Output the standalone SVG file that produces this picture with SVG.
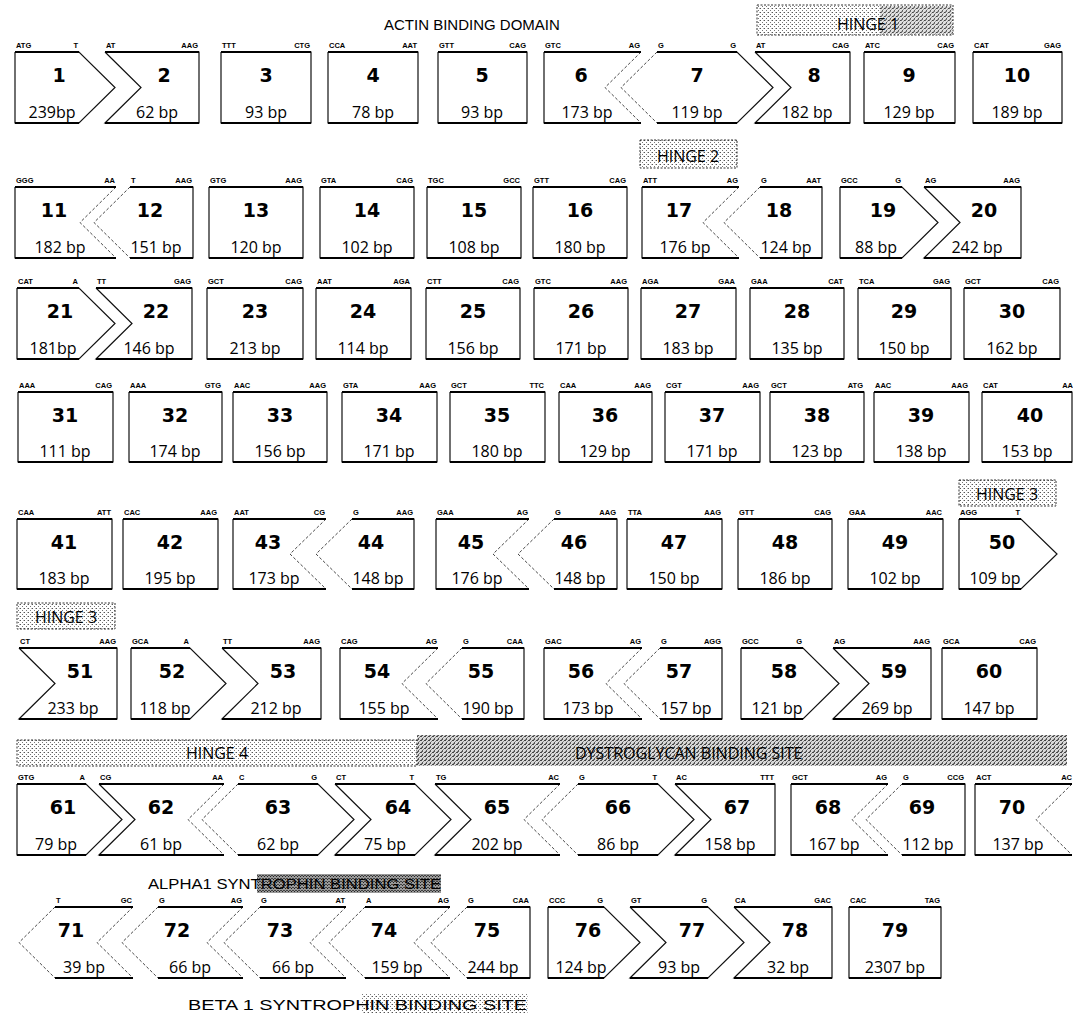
<svg xmlns="http://www.w3.org/2000/svg" width="1073" height="1018" viewBox="0 0 1073 1018">
<style>
.o{fill:none;stroke:#111;stroke-width:1.2;stroke-linejoin:miter}
.tb{fill:none;stroke:#000;stroke-width:2}
.d{fill:none;stroke:#333;stroke-width:0.9;stroke-dasharray:3 2}
.n{font-family:'DejaVu Sans',sans-serif;font-weight:bold;font-size:19px;text-anchor:middle;fill:#000}
.b{font-family:'Open Sans',sans-serif;font-size:16px;text-anchor:middle;fill:#000}
.s{font-family:'Liberation Sans',sans-serif;font-weight:bold;font-size:7.5px;fill:#000}
.e{text-anchor:end}
.hb{stroke:#333;stroke-width:1;stroke-dasharray:2 1.5}
.ht{font-family:'Open Sans',sans-serif;font-size:16px;fill:#000}
.tt{font-family:'Liberation Sans',sans-serif;font-size:15px;fill:#000}
</style>
<defs>
<pattern id="p1" width="4" height="4" patternUnits="userSpaceOnUse"><rect width="4" height="4" fill="#fff"/><rect x="0" y="0" width="1" height="1" fill="#555"/><rect x="2" y="2" width="1" height="1" fill="#777"/><rect x="3" y="0" width="1" height="1" fill="#bbb"/></pattern>
<pattern id="p2" width="4" height="4" patternUnits="userSpaceOnUse"><rect width="4" height="4" fill="#d8d8d8"/><rect x="0" y="0" width="2" height="1" fill="#444"/><rect x="2" y="2" width="1" height="2" fill="#555"/><rect x="3" y="1" width="1" height="1" fill="#888"/><rect x="1" y="3" width="1" height="1" fill="#777"/></pattern>
<pattern id="p3" width="3" height="3" patternUnits="userSpaceOnUse"><rect width="3" height="3" fill="#999"/><rect x="0" y="0" width="1" height="1" fill="#222"/><rect x="1" y="2" width="2" height="1" fill="#444"/></pattern>
</defs>
<rect width="1073" height="1018" fill="#fff"/>

<g id="annotations">
<text class="tt" x="384" y="30">ACTIN BINDING DOMAIN</text>
<rect class="hb" x="757" y="5" width="196" height="30" fill="url(#p1)"/>
<rect x="880" y="6" width="72" height="28" fill="url(#p2)" opacity="0.8"/>
<text class="ht" x="868" y="30" text-anchor="middle">HINGE 1</text>
<rect class="hb" x="640" y="140" width="97" height="28" fill="url(#p1)"/>
<text class="ht" x="688" y="162" text-anchor="middle">HINGE 2</text>
<rect class="hb" x="959" y="480" width="97" height="26" fill="url(#p1)"/>
<text class="ht" x="1007" y="500" text-anchor="middle">HINGE 3</text>
<rect class="hb" x="17" y="603" width="98" height="26" fill="url(#p1)"/>
<text class="ht" x="66" y="623" text-anchor="middle">HINGE 3</text>
<rect class="hb" x="17" y="740" width="400" height="26" fill="url(#p1)"/>
<rect x="417" y="735" width="650" height="31" fill="url(#p2)"/>
<text class="ht" x="217" y="759" text-anchor="middle">HINGE 4</text>
<text class="ht" x="575" y="759">DYSTROGLYCAN BINDING SITE</text>
<rect x="257" y="874" width="184" height="19" fill="url(#p3)"/>
<text class="tt" x="148" y="889" font-size="16" textLength="293" lengthAdjust="spacingAndGlyphs">ALPHA1 SYNTROPHIN BINDING SITE</text>
<rect x="362" y="994" width="166" height="20" fill="url(#p1)"/>
<text class="tt" x="188" y="1010" font-size="18" textLength="339" lengthAdjust="spacingAndGlyphs">BETA 1 SYNTROPHIN BINDING SITE</text>
</g>

<g id="connectors"></g>

<!-- Row 1: T52 B123 -->
<g id="e1"><path class="o" d="M15 52H79L115 87.5L79 123H15V52"/><path class="tb" d="M15 52H79M15 123H79"/><text class="s" x="16" y="48">ATG</text><text class="s e" x="78" y="48">T</text><text class="n" x="59" y="82">1</text><text class="b" x="52" y="118">239bp</text></g>
<g id="e2"><path class="o" d="M105 52H199V123H105L141 87.5L105 52"/><path class="tb" d="M105 52H199M105 123H199"/><text class="s" x="106" y="48">AT</text><text class="s e" x="198" y="48">AAG</text><text class="n" x="164" y="82">2</text><text class="b" x="157" y="118">62 bp</text></g>
<g id="e3"><path class="o" d="M221 52H311V123H221V52"/><path class="tb" d="M221 52H311M221 123H311"/><text class="s" x="222" y="48">TTT</text><text class="s e" x="310" y="48">CTG</text><text class="n" x="266" y="82">3</text><text class="b" x="266" y="118">93 bp</text></g>
<g id="e4"><path class="o" d="M328 52H418V123H328V52"/><path class="tb" d="M328 52H418M328 123H418"/><text class="s" x="329" y="48">CCA</text><text class="s e" x="417" y="48">AAT</text><text class="n" x="373" y="82">4</text><text class="b" x="373" y="118">78 bp</text></g>
<g id="e5"><path class="o" d="M438 52H527V123H438V52"/><path class="tb" d="M438 52H527M438 123H527"/><text class="s" x="439" y="48">GTT</text><text class="s e" x="526" y="48">CAG</text><text class="n" x="482" y="82">5</text><text class="b" x="482" y="118">93 bp</text></g>
<g id="e6"><path class="o" d="M544 52H641M641 123H544V52"/><path class="d" d="M641 52L605 87.5L641 123"/><path class="tb" d="M544 52H641M544 123H641"/><text class="s" x="545" y="48">GTC</text><text class="s e" x="640" y="48">AG</text><text class="n" x="581" y="82">6</text><text class="b" x="587" y="118">173 bp</text></g>
<g id="e7"><path class="o" d="M657 52H737L773 87.5L737 123H657"/><path class="d" d="M657 52L621 87.5L657 123"/><path class="tb" d="M657 52H737M657 123H737"/><text class="s" x="658" y="48">G</text><text class="s e" x="736" y="48">G</text><text class="n" x="697" y="82">7</text><text class="b" x="697" y="118">119 bp</text></g>
<g id="e8"><path class="o" d="M755 52H850V123H755L791 87.5L755 52"/><path class="tb" d="M755 52H850M755 123H850"/><text class="s" x="756" y="48">AT</text><text class="s e" x="849" y="48">CAG</text><text class="n" x="814" y="82">8</text><text class="b" x="807" y="118">182 bp</text></g>
<g id="e9"><path class="o" d="M864 52H955V123H864V52"/><path class="tb" d="M864 52H955M864 123H955"/><text class="s" x="865" y="48">ATC</text><text class="s e" x="954" y="48">CAG</text><text class="n" x="909" y="82">9</text><text class="b" x="909" y="118">129 bp</text></g>
<g id="e10"><path class="o" d="M973 52H1062V123H973V52"/><path class="tb" d="M973 52H1062M973 123H1062"/><text class="s" x="974" y="48">CAT</text><text class="s e" x="1061" y="48">GAG</text><text class="n" x="1017" y="82">10</text><text class="b" x="1017" y="118">189 bp</text></g>

<!-- Row 2: T187 B258 -->
<g id="e11"><path class="o" d="M15 187H116M116 258H15V187"/><path class="d" d="M116 187L80 222.5L116 258"/><path class="tb" d="M15 187H116M15 258H116"/><text class="s" x="16" y="183">GGG</text><text class="s e" x="115" y="183">AA</text><text class="n" x="54" y="217">11</text><text class="b" x="60" y="253">182 bp</text></g>
<g id="e12"><path class="o" d="M130 187H193V258H130"/><path class="d" d="M130 187L94 222.5L130 258"/><path class="tb" d="M130 187H193M130 258H193"/><text class="s" x="131" y="183">T</text><text class="s e" x="192" y="183">AAG</text><text class="n" x="150" y="217">12</text><text class="b" x="156" y="253">151 bp</text></g>
<g id="e13"><path class="o" d="M209 187H303V258H209V187"/><path class="tb" d="M209 187H303M209 258H303"/><text class="s" x="210" y="183">GTG</text><text class="s e" x="302" y="183">AAG</text><text class="n" x="256" y="217">13</text><text class="b" x="256" y="253">120 bp</text></g>
<g id="e14"><path class="o" d="M320 187H414V258H320V187"/><path class="tb" d="M320 187H414M320 258H414"/><text class="s" x="321" y="183">GTA</text><text class="s e" x="413" y="183">CAG</text><text class="n" x="367" y="217">14</text><text class="b" x="367" y="253">102 bp</text></g>
<g id="e15"><path class="o" d="M427 187H521V258H427V187"/><path class="tb" d="M427 187H521M427 258H521"/><text class="s" x="428" y="183">TGC</text><text class="s e" x="520" y="183">GCC</text><text class="n" x="474" y="217">15</text><text class="b" x="474" y="253">108 bp</text></g>
<g id="e16"><path class="o" d="M533 187H627V258H533V187"/><path class="tb" d="M533 187H627M533 258H627"/><text class="s" x="534" y="183">GTT</text><text class="s e" x="626" y="183">CAG</text><text class="n" x="580" y="217">16</text><text class="b" x="580" y="253">180 bp</text></g>
<g id="e17"><path class="o" d="M642 187H739M739 258H642V187"/><path class="d" d="M739 187L703 222.5L739 258"/><path class="tb" d="M642 187H739M642 258H739"/><text class="s" x="643" y="183">ATT</text><text class="s e" x="738" y="183">AG</text><text class="n" x="679" y="217">17</text><text class="b" x="685" y="253">176 bp</text></g>
<g id="e18"><path class="o" d="M760 187H822V258H760"/><path class="d" d="M760 187L724 222.5L760 258"/><path class="tb" d="M760 187H822M760 258H822"/><text class="s" x="761" y="183">G</text><text class="s e" x="821" y="183">AAT</text><text class="n" x="779" y="217">18</text><text class="b" x="786" y="253">124 bp</text></g>
<g id="e19"><path class="o" d="M840 187H902L938 222.5L902 258H840V187"/><path class="tb" d="M840 187H902M840 258H902"/><text class="s" x="841" y="183">GCC</text><text class="s e" x="901" y="183">G</text><text class="n" x="883" y="217">19</text><text class="b" x="876" y="253">88 bp</text></g>
<g id="e20"><path class="o" d="M924 187H1021V258H924L960 222.5L924 187"/><path class="tb" d="M924 187H1021M924 258H1021"/><text class="s" x="925" y="183">AG</text><text class="s e" x="1020" y="183">AAG</text><text class="n" x="984" y="217">20</text><text class="b" x="977" y="253">242 bp</text></g>

<!-- Row 3: T288 B359 -->
<g id="e21"><path class="o" d="M17 288H79L115 323.5L79 359H17V288"/><path class="tb" d="M17 288H79M17 359H79"/><text class="s" x="18" y="284">CAT</text><text class="s e" x="78" y="284">A</text><text class="n" x="60" y="318">21</text><text class="b" x="53" y="354">181bp</text></g>
<g id="e22"><path class="o" d="M96 288H192V359H96L132 323.5L96 288"/><path class="tb" d="M96 288H192M96 359H192"/><text class="s" x="97" y="284">TT</text><text class="s e" x="191" y="284">GAG</text><text class="n" x="156" y="318">22</text><text class="b" x="149" y="354">146 bp</text></g>
<g id="e23"><path class="o" d="M207 288H303V359H207V288"/><path class="tb" d="M207 288H303M207 359H303"/><text class="s" x="208" y="284">GCT</text><text class="s e" x="302" y="284">CAG</text><text class="n" x="255" y="318">23</text><text class="b" x="255" y="354">213 bp</text></g>
<g id="e24"><path class="o" d="M316 288H411V359H316V288"/><path class="tb" d="M316 288H411M316 359H411"/><text class="s" x="317" y="284">AAT</text><text class="s e" x="410" y="284">AGA</text><text class="n" x="363" y="318">24</text><text class="b" x="363" y="354">114 bp</text></g>
<g id="e25"><path class="o" d="M426 288H520V359H426V288"/><path class="tb" d="M426 288H520M426 359H520"/><text class="s" x="427" y="284">CTT</text><text class="s e" x="519" y="284">CAG</text><text class="n" x="473" y="318">25</text><text class="b" x="473" y="354">156 bp</text></g>
<g id="e26"><path class="o" d="M534 288H628V359H534V288"/><path class="tb" d="M534 288H628M534 359H628"/><text class="s" x="535" y="284">GTC</text><text class="s e" x="627" y="284">AAG</text><text class="n" x="581" y="318">26</text><text class="b" x="581" y="354">171 bp</text></g>
<g id="e27"><path class="o" d="M641 288H736V359H641V288"/><path class="tb" d="M641 288H736M641 359H736"/><text class="s" x="642" y="284">AGA</text><text class="s e" x="735" y="284">GAA</text><text class="n" x="688" y="318">27</text><text class="b" x="688" y="354">183 bp</text></g>
<g id="e28"><path class="o" d="M750 288H844V359H750V288"/><path class="tb" d="M750 288H844M750 359H844"/><text class="s" x="751" y="284">GAA</text><text class="s e" x="843" y="284">CAT</text><text class="n" x="797" y="318">28</text><text class="b" x="797" y="354">135 bp</text></g>
<g id="e29"><path class="o" d="M858 288H951V359H858V288"/><path class="tb" d="M858 288H951M858 359H951"/><text class="s" x="859" y="284">TCA</text><text class="s e" x="950" y="284">GAG</text><text class="n" x="904" y="318">29</text><text class="b" x="904" y="354">150 bp</text></g>
<g id="e30"><path class="o" d="M964 288H1060V359H964V288"/><path class="tb" d="M964 288H1060M964 359H1060"/><text class="s" x="965" y="284">GCT</text><text class="s e" x="1059" y="284">CAG</text><text class="n" x="1012" y="318">30</text><text class="b" x="1012" y="354">162 bp</text></g>

<!-- Row 4: T392 B462 -->
<g id="e31"><path class="o" d="M18 392H113V462H18V392"/><path class="tb" d="M18 392H113M18 462H113"/><text class="s" x="19" y="388">AAA</text><text class="s e" x="112" y="388">CAG</text><text class="n" x="65" y="422">31</text><text class="b" x="65" y="457">111 bp</text></g>
<g id="e32"><path class="o" d="M129 392H222V462H129V392"/><path class="tb" d="M129 392H222M129 462H222"/><text class="s" x="130" y="388">AAA</text><text class="s e" x="221" y="388">GTG</text><text class="n" x="175" y="422">32</text><text class="b" x="175" y="457">174 bp</text></g>
<g id="e33"><path class="o" d="M233 392H327V462H233V392"/><path class="tb" d="M233 392H327M233 462H327"/><text class="s" x="234" y="388">AAC</text><text class="s e" x="326" y="388">AAG</text><text class="n" x="280" y="422">33</text><text class="b" x="280" y="457">156 bp</text></g>
<g id="e34"><path class="o" d="M342 392H437V462H342V392"/><path class="tb" d="M342 392H437M342 462H437"/><text class="s" x="343" y="388">GTA</text><text class="s e" x="436" y="388">AAG</text><text class="n" x="389" y="422">34</text><text class="b" x="389" y="457">171 bp</text></g>
<g id="e35"><path class="o" d="M450 392H545V462H450V392"/><path class="tb" d="M450 392H545M450 462H545"/><text class="s" x="451" y="388">GCT</text><text class="s e" x="544" y="388">TTC</text><text class="n" x="497" y="422">35</text><text class="b" x="497" y="457">180 bp</text></g>
<g id="e36"><path class="o" d="M559 392H652V462H559V392"/><path class="tb" d="M559 392H652M559 462H652"/><text class="s" x="560" y="388">CAA</text><text class="s e" x="651" y="388">AAG</text><text class="n" x="605" y="422">36</text><text class="b" x="605" y="457">129 bp</text></g>
<g id="e37"><path class="o" d="M665 392H760V462H665V392"/><path class="tb" d="M665 392H760M665 462H760"/><text class="s" x="666" y="388">CGT</text><text class="s e" x="759" y="388">AAG</text><text class="n" x="712" y="422">37</text><text class="b" x="712" y="457">171 bp</text></g>
<g id="e38"><path class="o" d="M770 392H864V462H770V392"/><path class="tb" d="M770 392H864M770 462H864"/><text class="s" x="771" y="388">GCT</text><text class="s e" x="863" y="388">ATG</text><text class="n" x="817" y="422">38</text><text class="b" x="817" y="457">123 bp</text></g>
<g id="e39"><path class="o" d="M874 392H969V462H874V392"/><path class="tb" d="M874 392H969M874 462H969"/><text class="s" x="875" y="388">AAC</text><text class="s e" x="968" y="388">AAG</text><text class="n" x="921" y="422">39</text><text class="b" x="921" y="457">138 bp</text></g>
<g id="e40"><path class="o" d="M982 392H1072V462H982V392"/><path class="tb" d="M982 392H1072M982 462H1072"/><text class="s" x="983" y="388">CAT</text><text class="s e" x="1073" y="388">AA</text><text class="n" x="1030" y="422">40</text><text class="b" x="1027" y="457">153 bp</text></g>

<!-- Row 5: T519 B589 -->
<g id="e41"><path class="o" d="M17 519H112V589H17V519"/><path class="tb" d="M17 519H112M17 589H112"/><text class="s" x="18" y="515">CAA</text><text class="s e" x="111" y="515">ATT</text><text class="n" x="64" y="549">41</text><text class="b" x="64" y="584">183 bp</text></g>
<g id="e42"><path class="o" d="M123 519H218V589H123V519"/><path class="tb" d="M123 519H218M123 589H218"/><text class="s" x="124" y="515">CAC</text><text class="s e" x="217" y="515">AAG</text><text class="n" x="170" y="549">42</text><text class="b" x="170" y="584">195 bp</text></g>
<g id="e43"><path class="o" d="M233 519H326M326 589H233V519"/><path class="d" d="M326 519L290 554L326 589"/><path class="tb" d="M233 519H326M233 589H326"/><text class="s" x="234" y="515">AAT</text><text class="s e" x="325" y="515">CG</text><text class="n" x="268" y="549">43</text><text class="b" x="274" y="584">173 bp</text></g>
<g id="e44"><path class="o" d="M352 519H414V589H352"/><path class="d" d="M352 519L316 554L352 589"/><path class="tb" d="M352 519H414M352 589H414"/><text class="s" x="353" y="515">G</text><text class="s e" x="413" y="515">AAG</text><text class="n" x="371" y="549">44</text><text class="b" x="378" y="584">148 bp</text></g>
<g id="e45"><path class="o" d="M436 519H529M529 589H436V519"/><path class="d" d="M529 519L493 554L529 589"/><path class="tb" d="M436 519H529M436 589H529"/><text class="s" x="437" y="515">GAA</text><text class="s e" x="528" y="515">AG</text><text class="n" x="471" y="549">45</text><text class="b" x="477" y="584">176 bp</text></g>
<g id="e46"><path class="o" d="M554 519H617V589H554"/><path class="d" d="M554 519L518 554L554 589"/><path class="tb" d="M554 519H617M554 589H617"/><text class="s" x="555" y="515">G</text><text class="s e" x="616" y="515">AAG</text><text class="n" x="574" y="549">46</text><text class="b" x="580" y="584">148 bp</text></g>
<g id="e47"><path class="o" d="M627 519H722V589H627V519"/><path class="tb" d="M627 519H722M627 589H722"/><text class="s" x="628" y="515">TTA</text><text class="s e" x="721" y="515">AAG</text><text class="n" x="674" y="549">47</text><text class="b" x="674" y="584">150 bp</text></g>
<g id="e48"><path class="o" d="M738 519H832V589H738V519"/><path class="tb" d="M738 519H832M738 589H832"/><text class="s" x="739" y="515">GTT</text><text class="s e" x="831" y="515">CAG</text><text class="n" x="785" y="549">48</text><text class="b" x="785" y="584">186 bp</text></g>
<g id="e49"><path class="o" d="M848 519H943V589H848V519"/><path class="tb" d="M848 519H943M848 589H943"/><text class="s" x="849" y="515">GAA</text><text class="s e" x="942" y="515">AAC</text><text class="n" x="895" y="549">49</text><text class="b" x="895" y="584">102 bp</text></g>
<g id="e50"><path class="o" d="M959 519H1021L1057 554L1021 589H959V519"/><path class="tb" d="M959 519H1021M959 589H1021"/><text class="s" x="960" y="515">AGG</text><text class="s e" x="1020" y="515">T</text><text class="n" x="1002" y="549">50</text><text class="b" x="995" y="584">109 bp</text></g>

<!-- Row 6: T648 B719 -->
<g id="e51"><path class="o" d="M19 648H117V719H19L55 683.5L19 648"/><path class="tb" d="M19 648H117M19 719H117"/><text class="s" x="20" y="644">CT</text><text class="s e" x="116" y="644">AAG</text><text class="n" x="80" y="678">51</text><text class="b" x="73" y="714">233 bp</text></g>
<g id="e52"><path class="o" d="M131 648H190L226 683.5L190 719H131V648"/><path class="tb" d="M131 648H190M131 719H190"/><text class="s" x="132" y="644">GCA</text><text class="s e" x="189" y="644">A</text><text class="n" x="172" y="678">52</text><text class="b" x="165" y="714">118 bp</text></g>
<g id="e53"><path class="o" d="M222 648H321V719H222L258 683.5L222 648"/><path class="tb" d="M222 648H321M222 719H321"/><text class="s" x="223" y="644">TT</text><text class="s e" x="320" y="644">AAG</text><text class="n" x="283" y="678">53</text><text class="b" x="276" y="714">212 bp</text></g>
<g id="e54"><path class="o" d="M340 648H438M438 719H340V648"/><path class="d" d="M438 648L402 683.5L438 719"/><path class="tb" d="M340 648H438M340 719H438"/><text class="s" x="341" y="644">CAG</text><text class="s e" x="437" y="644">AG</text><text class="n" x="377" y="678">54</text><text class="b" x="384" y="714">155 bp</text></g>
<g id="e55"><path class="o" d="M462 648H524V719H462"/><path class="d" d="M462 648L426 683.5L462 719"/><path class="tb" d="M462 648H524M462 719H524"/><text class="s" x="463" y="644">G</text><text class="s e" x="523" y="644">CAA</text><text class="n" x="481" y="678">55</text><text class="b" x="488" y="714">190 bp</text></g>
<g id="e56"><path class="o" d="M544 648H642M642 719H544V648"/><path class="d" d="M642 648L606 683.5L642 719"/><path class="tb" d="M544 648H642M544 719H642"/><text class="s" x="545" y="644">GAC</text><text class="s e" x="641" y="644">AG</text><text class="n" x="581" y="678">56</text><text class="b" x="588" y="714">173 bp</text></g>
<g id="e57"><path class="o" d="M660 648H722V719H660"/><path class="d" d="M660 648L624 683.5L660 719"/><path class="tb" d="M660 648H722M660 719H722"/><text class="s" x="661" y="644">G</text><text class="s e" x="721" y="644">AGG</text><text class="n" x="679" y="678">57</text><text class="b" x="686" y="714">157 bp</text></g>
<g id="e58"><path class="o" d="M741 648H803L839 683.5L803 719H741V648"/><path class="tb" d="M741 648H803M741 719H803"/><text class="s" x="742" y="644">GCC</text><text class="s e" x="802" y="644">G</text><text class="n" x="784" y="678">58</text><text class="b" x="777" y="714">121 bp</text></g>
<g id="e59"><path class="o" d="M833 648H931V719H833L869 683.5L833 648"/><path class="tb" d="M833 648H931M833 719H931"/><text class="s" x="834" y="644">AG</text><text class="s e" x="930" y="644">AAG</text><text class="n" x="894" y="678">59</text><text class="b" x="887" y="714">269 bp</text></g>
<g id="e60"><path class="o" d="M942 648H1037V719H942V648"/><path class="tb" d="M942 648H1037M942 719H1037"/><text class="s" x="943" y="644">GCA</text><text class="s e" x="1036" y="644">CAG</text><text class="n" x="989" y="678">60</text><text class="b" x="989" y="714">147 bp</text></g>

<!-- Row 7: T784 B855 -->
<g id="e61"><path class="o" d="M17 784H86L122 819.5L86 855H17V784"/><path class="tb" d="M17 784H86M17 855H86"/><text class="s" x="18" y="780">GTG</text><text class="s e" x="85" y="780">A</text><text class="n" x="63" y="814">61</text><text class="b" x="56" y="850">79 bp</text></g>
<g id="e62"><path class="o" d="M99 784H224M224 855H99L135 819.5L99 784"/><path class="d" d="M224 784L188 819.5L224 855"/><path class="tb" d="M99 784H224M99 855H224"/><text class="s" x="100" y="780">CG</text><text class="s e" x="223" y="780">AA</text><text class="n" x="161" y="814">62</text><text class="b" x="161" y="850">61 bp</text></g>
<g id="e63"><path class="o" d="M238 784H318L354 819.5L318 855H238"/><path class="d" d="M238 784L202 819.5L238 855"/><path class="tb" d="M238 784H318M238 855H318"/><text class="s" x="239" y="780">C</text><text class="s e" x="317" y="780">G</text><text class="n" x="278" y="814">63</text><text class="b" x="278" y="850">62 bp</text></g>
<g id="e64"><path class="o" d="M335 784H415L451 819.5L415 855H335L371 819.5L335 784"/><path class="tb" d="M335 784H415M335 855H415"/><text class="s" x="336" y="780">CT</text><text class="s e" x="414" y="780">T</text><text class="n" x="398" y="814">64</text><text class="b" x="385" y="850">75 bp</text></g>
<g id="e65"><path class="o" d="M435 784H560M560 855H435L471 819.5L435 784"/><path class="d" d="M560 784L524 819.5L560 855"/><path class="tb" d="M435 784H560M435 855H560"/><text class="s" x="436" y="780">TG</text><text class="s e" x="559" y="780">AC</text><text class="n" x="497" y="814">65</text><text class="b" x="497" y="850">202 bp</text></g>
<g id="e66"><path class="o" d="M578 784H658L694 819.5L658 855H578"/><path class="d" d="M578 784L542 819.5L578 855"/><path class="tb" d="M578 784H658M578 855H658"/><text class="s" x="579" y="780">G</text><text class="s e" x="657" y="780">T</text><text class="n" x="618" y="814">66</text><text class="b" x="618" y="850">86 bp</text></g>
<g id="e67"><path class="o" d="M675 784H775V855H675L711 819.5L675 784"/><path class="tb" d="M675 784H775M675 855H775"/><text class="s" x="676" y="780">AC</text><text class="s e" x="774" y="780">TTT</text><text class="n" x="737" y="814">67</text><text class="b" x="730" y="850">158 bp</text></g>
<g id="e68"><path class="o" d="M791 784H888M888 855H791V784"/><path class="d" d="M888 784L852 819.5L888 855"/><path class="tb" d="M791 784H888M791 855H888"/><text class="s" x="792" y="780">GCT</text><text class="s e" x="887" y="780">AG</text><text class="n" x="828" y="814">68</text><text class="b" x="834" y="850">167 bp</text></g>
<g id="e69"><path class="o" d="M902 784H965V855H902"/><path class="d" d="M902 784L866 819.5L902 855"/><path class="tb" d="M902 784H965M902 855H965"/><text class="s" x="903" y="780">G</text><text class="s e" x="964" y="780">CCG</text><text class="n" x="922" y="814">69</text><text class="b" x="928" y="850">112 bp</text></g>
<g id="e70"><path class="o" d="M975 784H1072M1072 855H975V784"/><path class="d" d="M1072 784L1036 819.5L1072 855"/><path class="tb" d="M975 784H1072M975 855H1072"/><text class="s" x="976" y="780">ACT</text><text class="s e" x="1072" y="780">AC</text><text class="n" x="1012" y="814">70</text><text class="b" x="1018" y="850">137 bp</text></g>

<!-- Row 8: T907 B978 -->
<g id="e71"><path class="o" d="M55 907H133M133 978H55"/><path class="d" d="M55 907L19 942.5L55 978M133 907L97 942.5L133 978"/><path class="tb" d="M55 907H133M55 978H133"/><text class="s" x="56" y="903">T</text><text class="s e" x="132" y="903">GC</text><text class="n" x="71" y="937">71</text><text class="b" x="84" y="973">39 bp</text></g>
<g id="e72"><path class="o" d="M158 907H243M243 978H158"/><path class="d" d="M158 907L122 942.5L158 978M243 907L207 942.5L243 978"/><path class="tb" d="M158 907H243M158 978H243"/><text class="s" x="159" y="903">G</text><text class="s e" x="242" y="903">AG</text><text class="n" x="177" y="937">72</text><text class="b" x="190" y="973">66 bp</text></g>
<g id="e73"><path class="o" d="M260 907H346M346 978H260"/><path class="d" d="M260 907L224 942.5L260 978M346 907L310 942.5L346 978"/><path class="tb" d="M260 907H346M260 978H346"/><text class="s" x="261" y="903">G</text><text class="s e" x="345" y="903">AT</text><text class="n" x="280" y="937">73</text><text class="b" x="293" y="973">66 bp</text></g>
<g id="e74"><path class="o" d="M365 907H450M450 978H365"/><path class="d" d="M365 907L329 942.5L365 978M450 907L414 942.5L450 978"/><path class="tb" d="M365 907H450M365 978H450"/><text class="s" x="366" y="903">A</text><text class="s e" x="449" y="903">AG</text><text class="n" x="384" y="937">74</text><text class="b" x="397" y="973">159 bp</text></g>
<g id="e75"><path class="o" d="M467 907H530V978H467"/><path class="d" d="M467 907L431 942.5L467 978"/><path class="tb" d="M467 907H530M467 978H530"/><text class="s" x="468" y="903">G</text><text class="s e" x="529" y="903">CAA</text><text class="n" x="487" y="937">75</text><text class="b" x="493" y="973">244 bp</text></g>
<g id="e76"><path class="o" d="M548 907H604L640 942.5L604 978H548V907"/><path class="tb" d="M548 907H604M548 978H604"/><text class="s" x="549" y="903">CCC</text><text class="s e" x="603" y="903">G</text><text class="n" x="588" y="937">76</text><text class="b" x="581" y="973">124 bp</text></g>
<g id="e77"><path class="o" d="M630 907H708L744 942.5L708 978H630L666 942.5L630 907"/><path class="tb" d="M630 907H708M630 978H708"/><text class="s" x="631" y="903">GT</text><text class="s e" x="707" y="903">G</text><text class="n" x="692" y="937">77</text><text class="b" x="679" y="973">93 bp</text></g>
<g id="e78"><path class="o" d="M734 907H832V978H734L770 942.5L734 907"/><path class="tb" d="M734 907H832M734 978H832"/><text class="s" x="735" y="903">CA</text><text class="s e" x="831" y="903">GAC</text><text class="n" x="795" y="937">78</text><text class="b" x="788" y="973">32 bp</text></g>
<g id="e79"><path class="o" d="M849 907H941V978H849V907"/><path class="tb" d="M849 907H941M849 978H941"/><text class="s" x="850" y="903">CAC</text><text class="s e" x="940" y="903">TAG</text><text class="n" x="895" y="937">79</text><text class="b" x="895" y="973">2307 bp</text></g>
</svg>
